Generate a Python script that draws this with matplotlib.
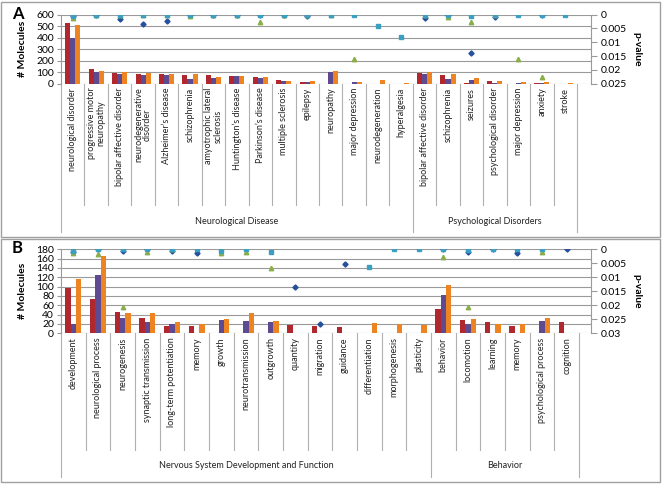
import numpy as np
import matplotlib
matplotlib.use("Agg")
from matplotlib import pyplot as plt
from matplotlib import transforms
from matplotlib.patches import Rectangle

plt.rcParams['font.family'] = ['Lato', 'DejaVu Sans']

nan = np.nan

# ---------------- panel A data ----------------
cats_a = ["neurological disorder", "progressive motor\nneuropathy", "bipolar affective disorder",
          "neurodegenerative\ndisorder", "Alzheimer's disease", "schizophrenia",
          "amyotrophic lateral\nsclerosis", "Huntington's disease", "Parkinson's disease",
          "multiple sclerosis", "epilepsy", "neuropathy", "major depression", "neurodegeneration",
          "hyperalgesia",
          "bipolar affective disorder", "schizophrenia", "seizures", "psychological disorder",
          "major depression", "anxiety", "stroke"]
groups_a = [("Neurological Disease", 15), ("Psychological Disorders", 7)]
red_a = [530, 130, 92, 82, 80, 75, 72, 65, 60, 30, 18, 0, 0, 0, 0, 92, 78, 10, 25, 0, 3, 0]
purple_a = [400, 100, 85, 78, 72, 40, 48, 65, 47, 25, 18, 100, 15, 0, 0, 85, 42, 35, 3, 10, 6, 0]
orange_a = [510, 108, 100, 92, 84, 82, 58, 65, 60, 25, 20, 112, 18, 35, 10, 105, 85, 50, 25, 12, 14, 10]
p_red_a = [0.0005, 0, 0.0015, 0.0033, 0.0022, 0, 0, 0, 0, 0, 0.0005, nan, nan, nan, nan,
           0.0013, 0, 0.014, 0.0008, nan, 0, nan]
p_purple_a = [0.0012, 0, 0, 0, 0, 0.0005, 0, 0, 0.0025, 0, 0, 0, 0.016, nan, nan,
              0, 0.0008, 0.0028, 0, 0.016, 0.0226, nan]
p_orange_a = [0.0003, 0, 0, 0, 0, 0, 0, 0, 0, 0, 0, 0, 0, 0.0042, 0.0079,
              0, 0, 0.0005, 0, 0, 0, 0]

# ---------------- panel B data ----------------
cats_b = ["development", "neurological process", "neurogenesis", "synaptic transmission",
          "long-term potentiation", "memory", "growth", "neurotransmission", "outgrowth",
          "quantity", "migration", "guidance", "differentiation", "morphogenesis", "plasticity",
          "behavior", "locomotion", "learning", "memory", "psychological process", "cognition"]
groups_b = [("Nervous System Development and Function", 15), ("Behavior", 6)]
red_b = [98, 73, 46, 32, 16, 16, 0, 0, 0, 18, 16, 14, 0, 0, 0, 52, 28, 24, 16, 0, 25]
purple_b = [20, 125, 32, 25, 20, 0, 28, 27, 24, 0, 0, 0, 0, 0, 0, 82, 19, 0, 0, 26, 0]
orange_b = [116, 165, 44, 43, 24, 20, 31, 44, 27, 0, 0, 0, 22, 19, 17, 103, 30, 19, 20, 33, 0]
p_red_b = [0.0008, 0, 0.0005, 0, 0.0005, 0.0013, nan, nan, nan, 0.0136, 0.0268, 0.0054, nan, nan, nan,
           0, 0.0008, 0, 0.0012, nan, 0]
p_purple_b = [0.0014, 0.0018, 0.0207, 0.0008, 0, nan, 0.0013, 0.0008, 0.0068, nan, nan, nan, nan, nan, nan,
              0.0026, 0.0207, nan, nan, 0.0008, nan]
p_orange_b = [0.0005, 0, 0, 0, 0, 0, 0.0005, 0, 0.0008, nan, nan, nan, 0.0064, 0, 0,
              0, 0.0003, 0, 0, 0, nan]

RED = '#B0282D'
PURPLE = '#5E4A91'
ORANGE = '#EE8322'
C_DIA = '#25509C'
C_TRI = '#8AAE4A'
C_SQ = '#3A9FC0'
GRID = '#9a9a9a'
LINE = '#b0b0b0'

W, H = 662, 484
fig = plt.figure(figsize=(W / 100, H / 100), dpi=100)


def fy(py):
    return 1 - py / H


def draw_panel(top, bottom, cats, groups, red, purple, orange, pr, pp, po,
               ymax, ystep, pmax, letter, inner_end, group_y, group_end, cat_right):
    left, right = 61, 591
    ax = fig.add_axes([left / W, fy(bottom), (right - left) / W, (bottom - top) / H])
    n = len(cats)
    xmax = n * (right - left) / (cat_right - left)
    x = np.arange(n) + 0.5
    bw = 0.215
    ax.bar(x - bw, red, bw, color=RED, zorder=2)
    ax.bar(x, purple, bw, color=PURPLE, zorder=2)
    ax.bar(x + bw, orange, bw, color=ORANGE, zorder=2)
    ax.set_xlim(0, xmax)
    ax.set_ylim(0, ymax)
    ax.set_yticks(np.arange(0, ymax + 1, ystep))
    ax.set_xticks([])
    ax.yaxis.grid(True, color=GRID, lw=0.8)
    ax.set_axisbelow(True)
    for s in ['top', 'bottom']:
        ax.spines[s].set_visible(False)
    ax.spines['left'].set_color(GRID)
    ax.spines['right'].set_visible(False)
    ax.tick_params(axis='y', labelsize=7.5, color=GRID, length=3, pad=2)
    ax.set_ylabel("# Molecules", fontsize=7.5, fontweight='bold')
    ax.yaxis.set_label_coords((27 - left) / (right - left), 0.5)

    ax2 = ax.twinx()
    ax2.set_ylim(pmax, 0)
    ax2.set_yticks(np.arange(0, pmax + 1e-9, 0.005))
    ax2.set_yticklabels(["0"] + ["%g" % v for v in np.arange(0.005, pmax + 1e-9, 0.005)])
    for s in ['top', 'bottom', 'left']:
        ax2.spines[s].set_visible(False)
    ax2.spines['right'].set_color(GRID)
    ax2.tick_params(axis='y', labelsize=7.5, color=GRID, length=4, pad=3)
    ax2.set_ylabel("p-value", fontsize=7.5, fontweight='bold', rotation=-90)
    ax2.yaxis.set_label_coords((641 - left) / (right - left), 0.5)
    ax2.plot(x, pr, ls='none', marker='D', ms=2.6, color=C_DIA, zorder=3)
    ax2.plot(x, pp, ls='none', marker='^', ms=3.2, color=C_TRI, zorder=4)
    ax2.plot(x, po, ls='none', marker='s', ms=3.0, color=C_SQ, zorder=5)

    # category axis below
    tr = transforms.blended_transform_factory(ax.transData, fig.transFigure)
    for k, c in enumerate(cats):
        ax.text(k + 0.5, fy(bottom + 4), c.replace("'", "\u2019"), rotation=90, ha='center', va='top',
                fontsize=6.5, color='#222222', transform=tr, linespacing=1.0, multialignment='center')
    bounds = [0]
    for name, cnt in groups:
        bounds.append(bounds[-1] + cnt)
    for k in range(n + 1):
        end = group_end if k in bounds else inner_end
        ax.plot([k, k], [fy(bottom), fy(end)], transform=tr, clip_on=False, color=LINE, lw=0.8)
    for i, (name, cnt) in enumerate(groups):
        ax.text((bounds[i] + bounds[i + 1]) / 2, fy(group_y), name, ha='center', va='center',
                fontsize=6.5, color='#222222', transform=tr)
    fig.text(12 / W, fy(top - 1), letter, fontsize=12, fontweight='bold', ha='left', va='center')
    return ax


draw_panel(14.7, 83.7, cats_a, groups_a, red_a, purple_a, orange_a, p_red_a, p_purple_a, p_orange_a,
           600, 100, 0.025, "A", 205, 222, 232, 577)
draw_panel(249.3, 333.3, cats_b, groups_b, red_b, purple_b, orange_b, p_red_b, p_purple_b, p_orange_b,
           180, 20, 0.03, "B", 450, 466, 477, 579)

# panel frames
fig.patches.append(Rectangle((1 / W, fy(237)), 659 / W, 235 / H, transform=fig.transFigure,
                             fill=False, edgecolor='#a0a0a0', lw=1))
fig.patches.append(Rectangle((1 / W, fy(482)), 659 / W, 243 / H, transform=fig.transFigure,
                             fill=False, edgecolor='#a0a0a0', lw=1))

fig.savefig("out.png", dpi=100)
